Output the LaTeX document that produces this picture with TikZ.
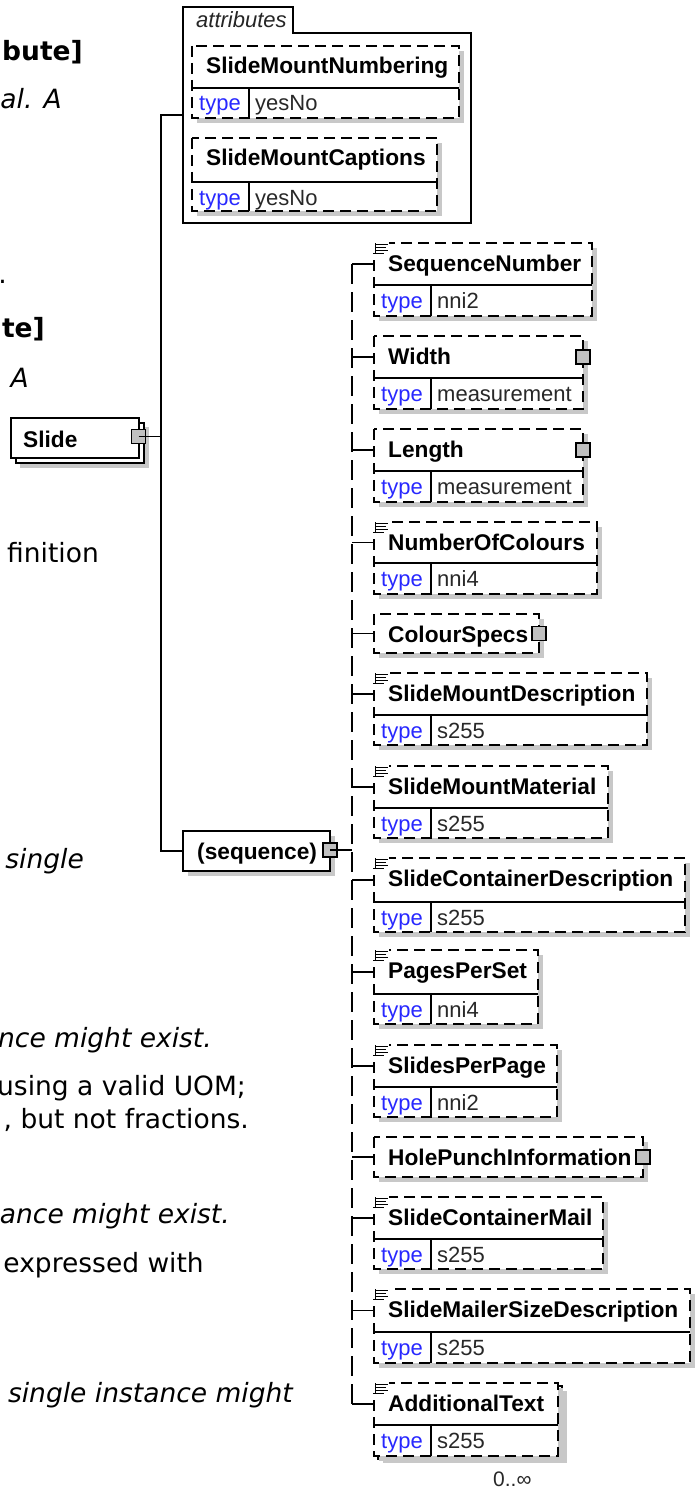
\documentclass[tikz,border=0pt]{standalone}
\usepackage{fontspec}
\setmainfont{Liberation Sans}
\newfontfamily\vfont{DejaVu Sans}
\usetikzlibrary{fit}
\definecolor{shadowc}{RGB}{200,200,200}
\definecolor{expc}{RGB}{192,192,192}
\definecolor{typec}{RGB}{40,40,255}
\definecolor{valc}{RGB}{40,40,40}
\newcommand\mynamefont{\fontsize{22.7}{26}\selectfont\bfseries}
\newcommand\mytypefont{\fontsize{22}{26}\selectfont}
\newcommand\myleftfont{\vfont\fontsize{26.5}{30}\selectfont}
\tikzset{
  ln/.style={line width=1.8pt, draw=black},
  reqbox/.style={ln, fill=white},
  optbox/.style={ln, fill=white, dash pattern=on 11pt off 6pt},
  shd/.style={fill=shadowc, draw=none},
  cell/.style={inner sep=0pt, draw=none},
  nametext/.style={font=\mynamefont, anchor=base west, inner sep=0pt},
  typetext/.style={font=\mytypefont, text=typec, anchor=base west, inner sep=0pt},
  valtext/.style={font=\mytypefont, text=valc, anchor=base west, inner sep=0pt},
  conn/.style={line width=1.8pt},
  dconn/.style={line width=1.8pt, dash pattern=on 20pt off 8pt},
  expander/.style={draw, fill=expc, line width=1.5pt, minimum width=14pt, minimum height=14pt, inner sep=0pt},
  ltext/.style={font=\myleftfont, anchor=base east, inner sep=0pt},
  litext/.style={font=\myleftfont\itshape, anchor=base east, inner sep=0pt},
  lbtext/.style={font=\myleftfont\bfseries, anchor=base east, inner sep=0pt},
}
% #1 id, #2 x1, #3 y1, #4 x2, #5 ydiv, #6 y2, #7 style, #8 name, #9 type value
\newcommand\telem[9]{%
  \fill[shd] (#2+5,#3+5) rectangle (#4+5,#6+5);
  \draw[#7] (#2,#3) rectangle (#4,#6);
  \draw[ln] (#2,#5) -- (#4,#5);
  \draw[ln] (#2+57,#5) -- (#2+57,#6);
  \node[cell, fit={(#2,#3) (#4,#5)}] (#1) {};
  \node[nametext] (#1-name) at (#2+14,#3+28) {#8};
  \node[typetext] (#1-type) at (#2+7,#5+23) {type};
  \node[valtext] (#1-val) at (#2+63,#5+23) {#9};
}
% #1 id, #2 x1, #3 y1, #4 x2, #5 y2, #6 style, #7 name
\newcommand\selem[7]{%
  \fill[shd] (#2+5,#3+5) rectangle (#4+5,#5+5);
  \draw[#6] (#2,#3) rectangle (#4,#5);
  \node[cell, fit={(#2,#3) (#4,#5)}] (#1) {};
  \node[nametext] (#1-name) at (#2+14,#3+28) {#7};
}
\newcommand\docicon[2]{%
  \fill[white] (#1-1,#2-1) rectangle (#1+15,#2+10);
  \draw[line width=1pt] (#1+1,#2) -- (#1+1,#2+11)
    (#1+2,#2+1.5) -- (#1+14,#2+1.5)
    (#1+2,#2+4.5) -- (#1+12,#2+4.5)
    (#1+2,#2+7.5) -- (#1+14,#2+7.5)
    (#1+2,#2+10.5) -- (#1+10,#2+10.5);
}
\begin{document}
\begin{tikzpicture}[x=1pt,y=-1pt]
\useasboundingbox (0,0) rectangle (696,1490);
\fill[white] (0,0) rectangle (696,1490);

% cut-off text of the page on the left
\node[lbtext] (l1) at (83,61) {bute]};
\node[litext] (l2) at (62,109) {al. A};
\node[ltext] (l3) at (7,283) {.};
\node[lbtext] (l4) at (45,337) {te]};
\node[litext] (l5) at (29,387) {A};
\node[ltext] (l6) at (99,562) {finition};
\node[litext] (l7) at (84,868) {single};
\node[litext] (l8) at (212,1047) {nce might exist.};
\node[ltext] (l9) at (246,1095) {using a valid UOM;};
\node[ltext] (l10) at (249,1128) {, but not fractions.};
\node[litext] (l11) at (230,1223) {ance might exist.};
\node[ltext] (l12) at (204,1272) {expressed with};
\node[litext] (l13) at (293,1402) {single instance might};

\coordinate (mtrunk) at (161,0);
\coordinate (ctrunk) at (352,0);

% attributes container
\draw[ln] (183,223) -- (183,7) -- (293,7) -- (293,33) -- (471,33) -- (471,223) -- cycle;
\node[cell, fit={(183,7) (471,223)}] (attrs) {};
\node[font=\mytypefont\itshape, anchor=base west, inner sep=0pt, text=black!85] (attrslbl) at (196,28) {attributes};
\telem{smn}{192}{46}{459}{88}{118}{optbox}{SlideMountNumbering}{yesNo}
\telem{smc}{192}{138}{437}{182}{211}{optbox}{SlideMountCaptions}{yesNo}

% Slide (stacked)
\fill[shd] (20,427) rectangle (149,468);
\draw[reqbox] (16,423) rectangle (144,463);
\draw[reqbox] (11,418) rectangle (139,458);
\node[cell, fit={(11,418) (139,458)}] (slide) {};
\node[nametext] (slidename) at (23,447) {Slide};
\node[expander] (slidex) at (138.5,436.5) {};

% sequence
\selem{seq}{183}{831}{330}{871}{reqbox}{(sequence)}
\node[expander] (seqx) at (330,850) {};

% main connectors
\draw[conn] (slidex.center) -- (slidex.center -| mtrunk);
\draw[conn] (attrs.west) -- (attrs.west -| mtrunk) -- (seq.west -| mtrunk) -- (seq.west);
\draw[conn] (seqx.center) -- (seqx.center -| ctrunk);

% children
\telem{seqn}{374}{243}{592}{285}{316}{optbox}{SequenceNumber}{nni2}
\telem{width}{374}{336}{583}{378}{409}{optbox}{Width}{measurement}
\telem{length}{374}{429}{583}{471}{502}{optbox}{Length}{measurement}
\telem{ncol}{374}{522}{597}{563}{594}{optbox}{NumberOfColours}{nni4}
\selem{cspec}{374}{614}{539}{653}{optbox}{ColourSpecs}
\telem{smdesc}{374}{673}{647}{715}{745}{optbox}{SlideMountDescription}{s255}
\telem{smmat}{374}{766}{608}{808}{838}{optbox}{SlideMountMaterial}{s255}
\telem{scdesc}{374}{858}{685}{902}{932}{optbox}{SlideContainerDescription}{s255}
\telem{pps}{374}{950}{538}{994}{1024}{optbox}{PagesPerSet}{nni4}
\telem{spp}{374}{1045}{557}{1087}{1117}{optbox}{SlidesPerPage}{nni2}
\selem{hpi}{374}{1137}{643}{1177}{optbox}{HolePunchInformation}
\telem{scmail}{374}{1197}{603}{1239}{1269}{optbox}{SlideContainerMail}{s255}
\telem{smsd}{374}{1289}{690}{1332}{1363}{optbox}{SlideMailerSizeDescription}{s255}
% AdditionalText (stacked)
\fill[shd] (383,1391) rectangle (567,1463);
\draw[optbox] (378,1386) rectangle (562,1459);
\telem{addt}{374}{1383}{558}{1425}{1456}{optbox}{AdditionalText}{s255}

\foreach \d/\y in {374/243,374/522,374/673,374/766,374/858,374/950,374/1045,374/1197,374/1289,374/1383}
  \docicon{\d}{\y};

\node[expander] (widthx) at (width.east) {};
\node[expander] (lengthx) at (length.east) {};
\node[expander] (cspecx) at (cspec.east) {};
\node[expander] (hpix) at (hpi.east) {};

\draw[dconn] (seqn.west -| ctrunk) -- (addt.west -| ctrunk);
\foreach \n in {seqn,width,length,ncol,cspec,smdesc,smmat,scdesc,pps,spp,hpi,scmail,smsd,addt}
  \draw[conn] (\n.west -| ctrunk) -- (\n.west);

\node[font=\fontsize{21}{24}\selectfont, anchor=base west, inner sep=0pt, text=valc] (occ) at (493,1486) {0..∞};
\end{tikzpicture}
\end{document}
